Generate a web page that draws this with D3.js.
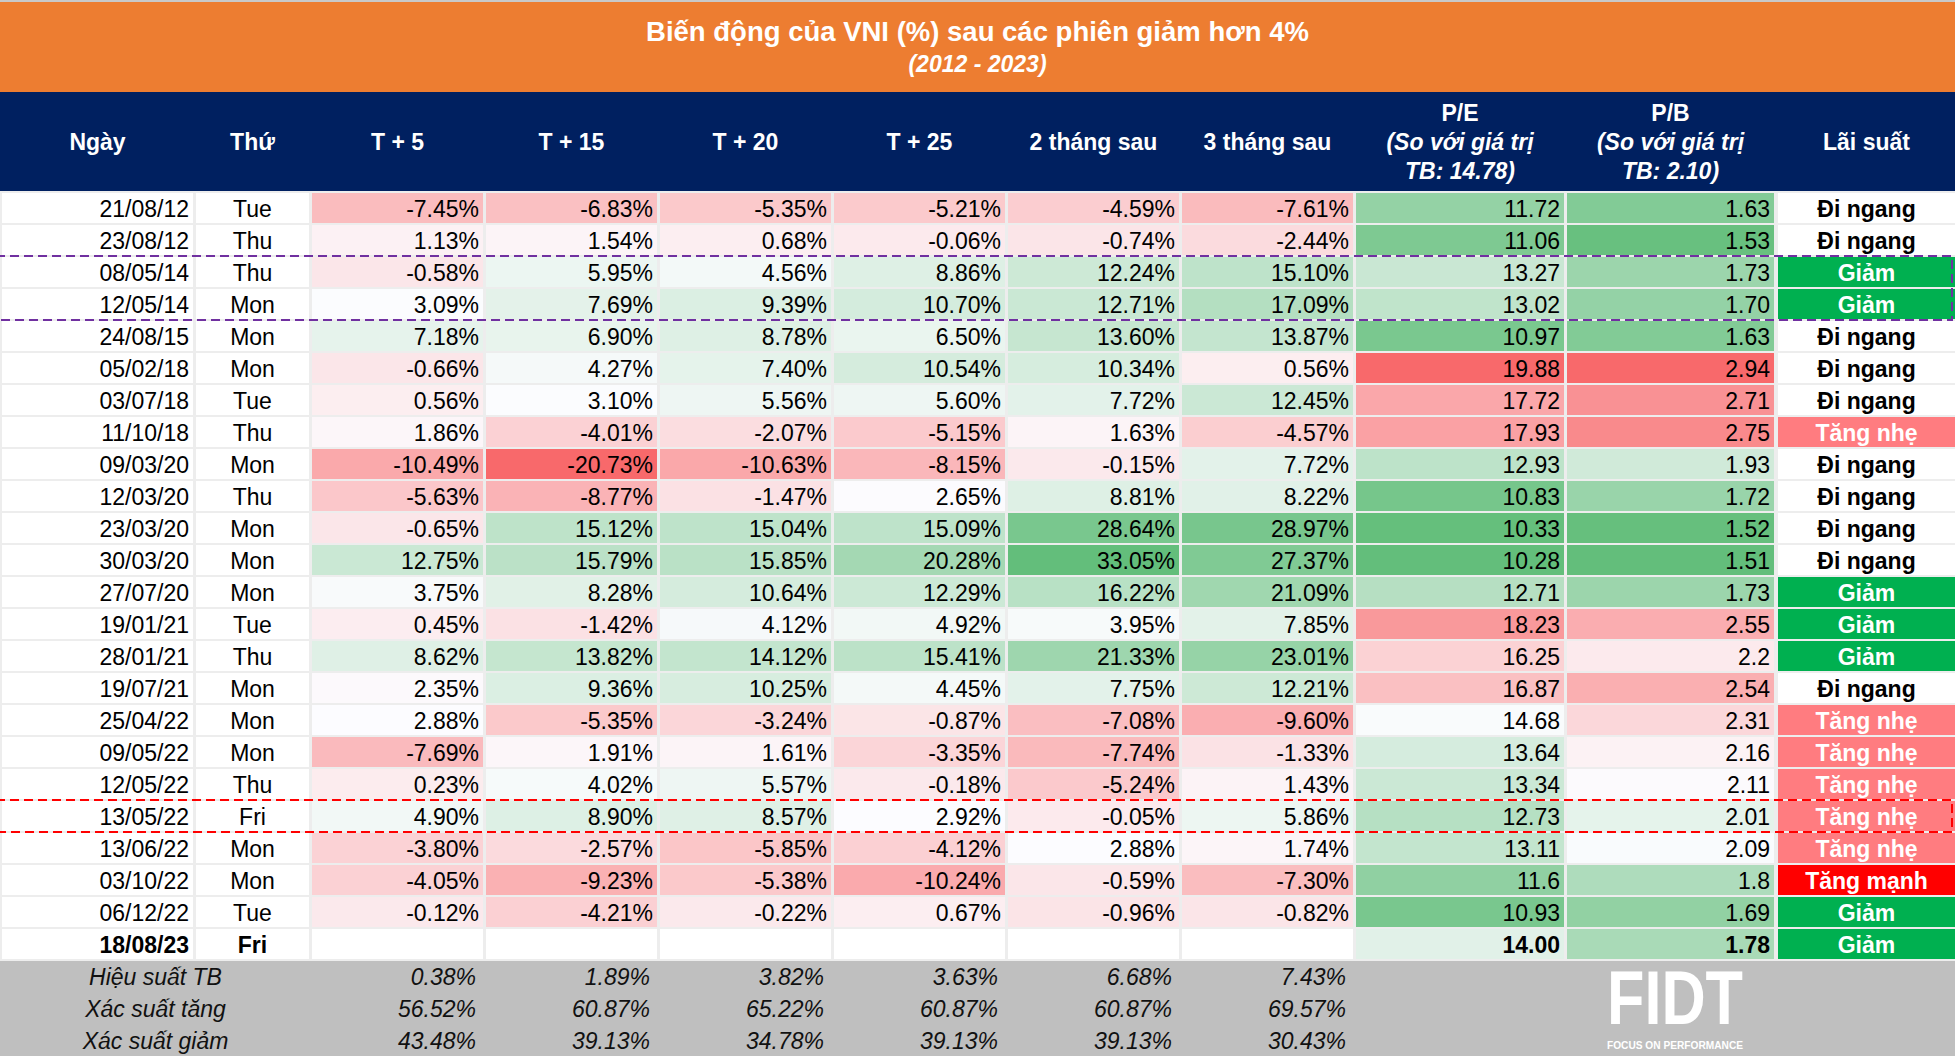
<!DOCTYPE html>
<html><head><meta charset="utf-8">
<script src="https://cdn.jsdelivr.net/npm/d3@7"></script>
<style>html,body{margin:0;padding:0;background:#fff;overflow:hidden}</style>
</head><body>
<svg id="chart" width="1955" height="1056"></svg>
<script>
// ---------------- DATA ----------------
const title = "Biến động của VNI (%) sau các phiên giảm hơn 4%";
const subtitle = "(2012 - 2023)";
const periods = ["T + 5", "T + 15", "T + 20", "T + 25", "2 tháng sau", "3 tháng sau"];
const dates = ["21/08/12","23/08/12","08/05/14","12/05/14","24/08/15","05/02/18","03/07/18","11/10/18","09/03/20","12/03/20","23/03/20","30/03/20","27/07/20","19/01/21","28/01/21","19/07/21","25/04/22","09/05/22","12/05/22","13/05/22","13/06/22","03/10/22","06/12/22","18/08/23"];
const weekdays = ["Tue","Thu","Thu","Mon","Mon","Mon","Tue","Thu","Mon","Thu","Mon","Mon","Mon","Tue","Thu","Mon","Mon","Mon","Thu","Fri","Mon","Mon","Tue","Fri"];
const t5  = [-7.45, 1.13,-0.58, 3.09, 7.18,-0.66, 0.56, 1.86,-10.49,-5.63,-0.65,12.75, 3.75, 0.45, 8.62, 2.35, 2.88,-7.69, 0.23, 4.90,-3.80,-4.05,-0.12, null];
const t15 = [-6.83, 1.54, 5.95, 7.69, 6.90, 4.27, 3.10,-4.01,-20.73,-8.77,15.12,15.79, 8.28,-1.42,13.82, 9.36,-5.35, 1.91, 4.02, 8.90,-2.57,-9.23,-4.21, null];
const t20 = [-5.35, 0.68, 4.56, 9.39, 8.78, 7.40, 5.56,-2.07,-10.63,-1.47,15.04,15.85,10.64, 4.12,14.12,10.25,-3.24, 1.61, 5.57, 8.57,-5.85,-5.38,-0.22, null];
const t25 = [-5.21,-0.06, 8.86,10.70, 6.50,10.54, 5.60,-5.15,-8.15, 2.65,15.09,20.28,12.29, 4.92,15.41, 4.45,-0.87,-3.35,-0.18, 2.92,-4.12,-10.24, 0.67, null];
const m2  = [-4.59,-0.74,12.24,12.71,13.60,10.34, 7.72, 1.63,-0.15, 8.81,28.64,33.05,16.22, 3.95,21.33, 7.75,-7.08,-7.74,-5.24,-0.05, 2.88,-0.59,-0.96, null];
const m3  = [-7.61,-2.44,15.10,17.09,13.87, 0.56,12.45,-4.57, 7.72, 8.22,28.97,27.37,21.09, 7.85,23.01,12.21,-9.60,-1.33, 1.43, 5.86, 1.74,-7.30,-0.82, null];
const peLabels = ["11.72","11.06","13.27","13.02","10.97","19.88","17.72","17.93","12.93","10.83","10.33","10.28","12.71","18.23","16.25","16.87","14.68","13.64","13.34","12.73","13.11","11.6","10.93","14.00"];
const pbLabels = ["1.63","1.53","1.73","1.70","1.63","2.94","2.71","2.75","1.93","1.72","1.52","1.51","1.73","2.55","2.2","2.54","2.31","2.16","2.11","2.01","2.09","1.8","1.69","1.78"];
const rates = ["Đi ngang","Đi ngang","Giảm","Giảm","Đi ngang","Đi ngang","Đi ngang","Tăng nhẹ","Đi ngang","Đi ngang","Đi ngang","Đi ngang","Giảm","Giảm","Giảm","Đi ngang","Tăng nhẹ","Tăng nhẹ","Tăng nhẹ","Tăng nhẹ","Tăng nhẹ","Tăng mạnh","Giảm","Giảm"];
const peAvg = 14.78, pbAvg = 2.10;
const footLabels = ["Hiệu suất TB","Xác suất tăng","Xác suất giảm"];
const avgPerf  = [0.38, 1.89, 3.82, 3.63, 6.68, 7.43];
const probUp   = [56.52, 60.87, 65.22, 60.87, 60.87, 69.57];
const probDown = [43.48, 39.13, 34.78, 39.13, 39.13, 30.43];
const highlightPurple = ["08/05/14","12/05/14"];
const highlightRed = ["13/05/22"];

// ---------------- LAYOUT ----------------
const W = 1955, H = 1056;
const FONT = "'Liberation Sans', Arial, Helvetica, sans-serif";
const svg = d3.select("#chart");
const series = [t5, t15, t20, t25, m2, m3];
const nRows = dates.length;
const lastRow = nRows - 1;

const y = d3.scaleBand().domain(d3.range(nRows)).range([193, 959]).paddingInner(0.0625).paddingOuter(0);
const xP = d3.scaleBand().domain(periods).range([312, 1353]).paddingInner(0.0172).paddingOuter(0);
const cols = {date: [2, 193], dow: [196, 309], pe: [1356, 1564], pb: [1567, 1774], rate: [1778, 1955]};

const allPct = series.flat().filter(v => v != null);
const pctColor = d3.scaleLinear()
  .domain([d3.min(allPct), d3.median(allPct), d3.max(allPct)])
  .range(["#F8696B", "#FCFCFF", "#63BE7B"]);
const peVals = peLabels.map(Number), pbVals = pbLabels.map(Number);
const peColor = d3.scaleLinear().domain([d3.min(peVals), peAvg, d3.max(peVals)]).range(["#63BE7B", "#FCFCFF", "#F8696B"]);
const pbColor = d3.scaleLinear().domain([d3.min(pbVals), pbAvg, d3.max(pbVals)]).range(["#63BE7B", "#FCFCFF", "#F8696B"]);
const rateStyle = {"Đi ngang": ["#FFFFFF", "#000000"], "Giảm": ["#00B050", "#FFFFFF"], "Tăng nhẹ": ["#FF7C80", "#FFFFFF"], "Tăng mạnh": ["#FF0000", "#FFFFFF"]};

// backgrounds
svg.append("rect").attr("width", W).attr("height", H).attr("fill", "#EDEDED");
svg.append("rect").attr("x", 0).attr("y", 0).attr("width", W).attr("height", 92).attr("fill", "#ED7D31");
svg.append("rect").attr("x", 0).attr("y", 0).attr("width", W).attr("height", 2).attr("fill", "#C9C9C9");
svg.append("rect").attr("x", 0).attr("y", 92).attr("width", W).attr("height", 99).attr("fill", "#002060");
svg.append("rect").attr("x", 0).attr("y", 961).attr("width", W).attr("height", H - 961).attr("fill", "#BFBFBF");

// title
svg.append("text").attr("x", W / 2).attr("y", 41).attr("text-anchor", "middle")
  .attr("font-family", FONT).attr("font-size", 27.5).attr("font-weight", "bold").attr("fill", "#fff").text(title);
svg.append("text").attr("x", W / 2).attr("y", 72).attr("text-anchor", "middle")
  .attr("font-family", FONT).attr("font-size", 23).attr("font-weight", "bold").attr("font-style", "italic").attr("fill", "#fff").text(subtitle);

// header
const hdr = svg.append("g").attr("font-family", FONT).attr("font-size", 23).attr("font-weight", "bold").attr("fill", "#fff").attr("text-anchor", "middle");
const mid = c => (c[0] + c[1]) / 2;
hdr.append("text").attr("x", mid(cols.date)).attr("y", 150).text("Ngày");
hdr.append("text").attr("x", mid(cols.dow)).attr("y", 150).text("Thứ");
periods.forEach(p => hdr.append("text").attr("x", xP(p) + xP.bandwidth() / 2).attr("y", 150).text(p));
[["pe", "P/E", "TB: " + peAvg.toFixed(2) + ")"], ["pb", "P/B", "TB: " + pbAvg.toFixed(2) + ")"]].forEach(([k, a, c]) => {
  hdr.append("text").attr("x", mid(cols[k])).attr("y", 121).text(a);
  hdr.append("text").attr("x", mid(cols[k])).attr("y", 150).attr("font-style", "italic").text("(So với giá trị");
  hdr.append("text").attr("x", mid(cols[k])).attr("y", 179).attr("font-style", "italic").text(c);
});
hdr.append("text").attr("x", mid(cols.rate)).attr("y", 150).text("Lãi suất");

// rows
const body = svg.append("g").attr("font-family", FONT).attr("font-size", 23);
const bh = y.bandwidth();
d3.range(nRows).forEach(i => {
  const g = body.append("g").attr("font-weight", i === lastRow ? "bold" : "normal");
  const y0 = y(i), base = y0 + 24;
  g.append("rect").attr("x", cols.date[0]).attr("y", y0).attr("width", cols.date[1] - cols.date[0]).attr("height", bh).attr("fill", "#fff");
  g.append("text").attr("x", cols.date[1] - 4).attr("y", base).attr("text-anchor", "end").text(dates[i]);
  g.append("rect").attr("x", cols.dow[0]).attr("y", y0).attr("width", cols.dow[1] - cols.dow[0]).attr("height", bh).attr("fill", "#fff");
  g.append("text").attr("x", mid(cols.dow)).attr("y", base).attr("text-anchor", "middle").text(weekdays[i]);
  periods.forEach((p, j) => {
    const v = series[j][i];
    g.append("rect").attr("x", xP(p)).attr("y", y0).attr("width", xP.bandwidth()).attr("height", bh)
      .attr("fill", v == null ? "#fff" : pctColor(v));
    if (v != null) g.append("text").attr("x", xP(p) + xP.bandwidth() - 4).attr("y", base).attr("text-anchor", "end").text(v.toFixed(2) + "%");
  });
  g.append("rect").attr("x", cols.pe[0]).attr("y", y0).attr("width", cols.pe[1] - cols.pe[0]).attr("height", bh).attr("fill", peColor(peVals[i]));
  g.append("text").attr("x", cols.pe[1] - 4).attr("y", base).attr("text-anchor", "end").text(peLabels[i]);
  g.append("rect").attr("x", cols.pb[0]).attr("y", y0).attr("width", cols.pb[1] - cols.pb[0]).attr("height", bh).attr("fill", pbColor(pbVals[i]));
  g.append("text").attr("x", cols.pb[1] - 4).attr("y", base).attr("text-anchor", "end").text(pbLabels[i]);
  const rs = rateStyle[rates[i]];
  g.append("rect").attr("x", cols.rate[0]).attr("y", y0).attr("width", cols.rate[1] - cols.rate[0]).attr("height", bh).attr("fill", rs[0]);
  g.append("text").attr("x", mid(cols.rate)).attr("y", base).attr("text-anchor", "middle").attr("font-weight", "bold").attr("fill", rs[1]).text(rates[i]);
});

// dashed highlight boxes (left edge lies outside the visible sheet)
function box(list, color) {
  const idx = list.map(d => dates.indexOf(d));
  const top = y(d3.min(idx)) - 1, bot = y(d3.max(idx)) + bh + 1;
  svg.append("rect").attr("x", -4).attr("y", top).attr("width", W + 1).attr("height", bot - top)
    .attr("fill", "none").attr("stroke", color).attr("stroke-width", 2).attr("stroke-dasharray", "9,5");
}
box(highlightPurple, "#7030A0");
box(highlightRed, "#FF0000");

// footer
const foot = svg.append("g").attr("font-family", FONT).attr("font-size", 23).attr("font-style", "italic").attr("fill", "#111");
[avgPerf, probUp, probDown].forEach((arr, r) => {
  const yy = 985 + r * 32;
  foot.append("text").attr("x", (cols.date[0] + cols.dow[1]) / 2).attr("y", yy).attr("text-anchor", "middle").text(footLabels[r]);
  periods.forEach((p, j) => foot.append("text").attr("x", xP(p) + xP.bandwidth() - 7).attr("y", yy).attr("text-anchor", "end").text(arr[j].toFixed(2) + "%"));
});

// logo
svg.append("text").attr("x", 1607).attr("y", 1024).attr("font-family", FONT).attr("font-size", 76).attr("font-weight", "bold")
  .attr("fill", "#fff").attr("textLength", 136).attr("lengthAdjust", "spacingAndGlyphs").text("FIDT");
svg.append("text").attr("x", 1607).attr("y", 1049).attr("font-family", FONT).attr("font-size", 10).attr("font-weight", "bold")
  .attr("fill", "#fff").attr("textLength", 136).attr("lengthAdjust", "spacingAndGlyphs").text("FOCUS ON PERFORMANCE");
</script>
</body></html>
